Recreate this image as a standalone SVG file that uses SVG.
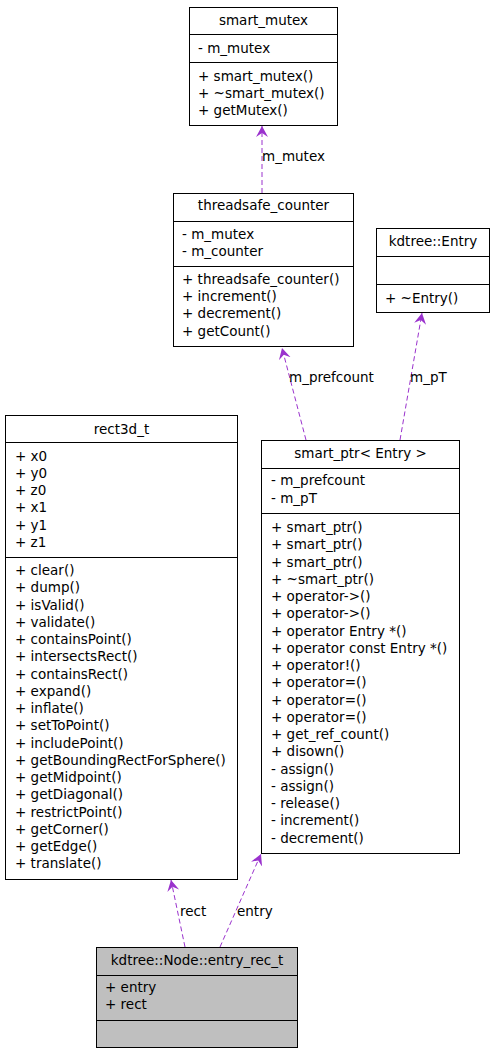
<svg xmlns="http://www.w3.org/2000/svg" width="493" height="1053" viewBox="0 0 493 1053">
<style>
text{font-family:"DejaVu Sans","Liberation Sans",sans-serif;font-size:13.5px;fill:#000}
.t{text-anchor:middle}
.box{fill:#fff;stroke:#000;stroke-width:1}
.gray{fill:#bfbfbf}
.sep{stroke:#000;stroke-width:1}
.edge{fill:none;stroke:#9a32cd;stroke-width:1;stroke-dasharray:5,3;marker-end:url(#arr)}
</style>
<defs>
<marker id="arr" markerUnits="userSpaceOnUse" markerWidth="14" markerHeight="14" refX="11" refY="6" orient="auto" viewBox="0 0 14 12">
<path d="M0,0 L11,6 L0,12 L4,6 Z" fill="#9a32cd"/>
</marker>
</defs>
<g id="connectors">
<path class="edge" d="M262,193 L262,126"/>
<path class="edge" d="M306,440 L282,348"/>
<path class="edge" d="M400,440 L422,313"/>
<path class="edge" d="M185,947 L171,880"/>
<path class="edge" d="M220,947 L261,854"/>
<text x="262" y="161">m_mutex</text>
<text x="289" y="382">m_prefcount</text>
<text x="410" y="382">m_pT</text>
<text x="180" y="916">rect</text>
<text x="237" y="916">entry</text>
</g>
<g id="smart_mutex">
<rect class="box" x="189.5" y="7.5" width="148" height="118"/>
<line class="sep" x1="189.5" y1="34.5" x2="337.5" y2="34.5"/>
<line class="sep" x1="189.5" y1="62.5" x2="337.5" y2="62.5"/>
<text class="t" x="263.5" y="25">smart_mutex</text>
<text x="198" y="53">- m_mutex</text>
<text x="198" y="81">+ smart_mutex()</text>
<text x="198" y="98">+ ~smart_mutex()</text>
<text x="198" y="115">+ getMutex()</text>
</g>
<g id="threadsafe_counter">
<rect class="box" x="173.5" y="193.5" width="180" height="153"/>
<line class="sep" x1="173.5" y1="221.5" x2="353.5" y2="221.5"/>
<line class="sep" x1="173.5" y1="266.5" x2="353.5" y2="266.5"/>
<text class="t" x="263.5" y="210">threadsafe_counter</text>
<text x="182" y="239">- m_mutex</text>
<text x="182" y="256">- m_counter</text>
<text x="182" y="284">+ threadsafe_counter()</text>
<text x="182" y="301">+ increment()</text>
<text x="182" y="318">+ decrement()</text>
<text x="182" y="336">+ getCount()</text>
</g>
<g id="kdtree_Entry">
<rect class="box" x="376.5" y="228.5" width="113" height="84"/>
<line class="sep" x1="376.5" y1="256.5" x2="489.5" y2="256.5"/>
<line class="sep" x1="376.5" y1="284.5" x2="489.5" y2="284.5"/>
<text class="t" x="433" y="246">kdtree::Entry</text>
<text x="385" y="303">+ ~Entry()</text>
</g>
<g id="rect3d_t">
<rect class="box" x="5.5" y="415.5" width="232" height="464"/>
<line class="sep" x1="5.5" y1="442.5" x2="237.5" y2="442.5"/>
<line class="sep" x1="5.5" y1="557.5" x2="237.5" y2="557.5"/>
<text class="t" x="121.5" y="434">rect3d_t</text>
<text x="15" y="460.5">+ x0</text>
<text x="15" y="477.75">+ y0</text>
<text x="15" y="495">+ z0</text>
<text x="15" y="512.25">+ x1</text>
<text x="15" y="529.5">+ y1</text>
<text x="15" y="546.75">+ z1</text>
<text x="15" y="575">+ clear()</text>
<text x="15" y="592.25">+ dump()</text>
<text x="15" y="609.5">+ isValid()</text>
<text x="15" y="626.75">+ validate()</text>
<text x="15" y="644">+ containsPoint()</text>
<text x="15" y="661.25">+ intersectsRect()</text>
<text x="15" y="678.5">+ containsRect()</text>
<text x="15" y="695.75">+ expand()</text>
<text x="15" y="713">+ inflate()</text>
<text x="15" y="730.25">+ setToPoint()</text>
<text x="15" y="747.5">+ includePoint()</text>
<text x="15" y="764.75">+ getBoundingRectForSphere()</text>
<text x="15" y="782">+ getMidpoint()</text>
<text x="15" y="799.25">+ getDiagonal()</text>
<text x="15" y="816.5">+ restrictPoint()</text>
<text x="15" y="833.75">+ getCorner()</text>
<text x="15" y="851">+ getEdge()</text>
<text x="15" y="868.25">+ translate()</text>
</g>
<g id="smart_ptr_Entry">
<rect class="box" x="261.5" y="440.5" width="198" height="413"/>
<line class="sep" x1="261.5" y1="468.5" x2="459.5" y2="468.5"/>
<line class="sep" x1="261.5" y1="513.5" x2="459.5" y2="513.5"/>
<text class="t" x="360.5" y="458">smart_ptr&lt; Entry &gt;</text>
<text x="271" y="485">- m_prefcount</text>
<text x="271" y="503">- m_pT</text>
<text x="271" y="532">+ smart_ptr()</text>
<text x="271" y="549.25">+ smart_ptr()</text>
<text x="271" y="566.5">+ smart_ptr()</text>
<text x="271" y="583.75">+ ~smart_ptr()</text>
<text x="271" y="601">+ operator-&gt;()</text>
<text x="271" y="618.25">+ operator-&gt;()</text>
<text x="271" y="635.5">+ operator Entry *()</text>
<text x="271" y="652.75">+ operator const Entry *()</text>
<text x="271" y="670">+ operator!()</text>
<text x="271" y="687.25">+ operator=()</text>
<text x="271" y="704.5">+ operator=()</text>
<text x="271" y="721.75">+ operator=()</text>
<text x="271" y="739">+ get_ref_count()</text>
<text x="271" y="756.25">+ disown()</text>
<text x="271" y="773.5">- assign()</text>
<text x="271" y="790.75">- assign()</text>
<text x="271" y="808">- release()</text>
<text x="271" y="825.25">- increment()</text>
<text x="271" y="842.5">- decrement()</text>
</g>
<g id="entry_rec_t">
<rect class="box gray" x="96.5" y="947.5" width="201" height="100"/>
<line class="sep" x1="96.5" y1="975.5" x2="297.5" y2="975.5"/>
<line class="sep" x1="96.5" y1="1020.5" x2="297.5" y2="1020.5"/>
<text class="t" x="197" y="965">kdtree::Node::entry_rec_t</text>
<text x="105" y="992">+ entry</text>
<text x="105" y="1009">+ rect</text>
</g>
</svg>
